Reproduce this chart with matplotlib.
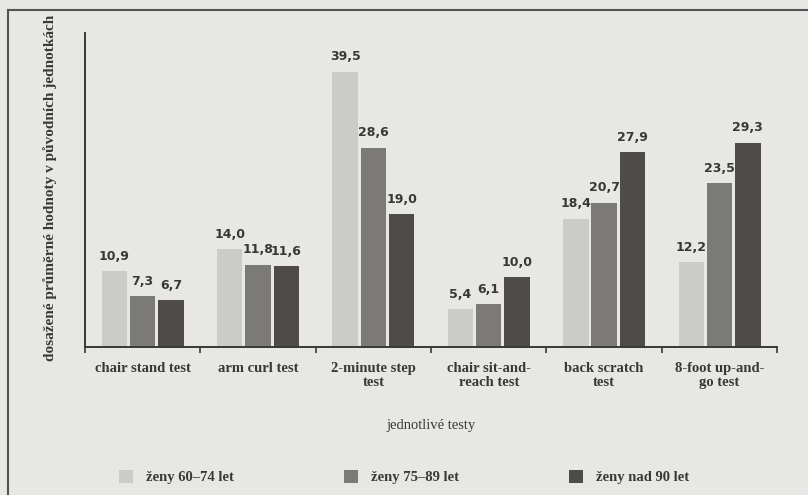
import matplotlib.pyplot as plt
import numpy as np
from matplotlib.lines import Line2D

# average results per test and age group
tests = ["chair stand test", "arm curl test", "2-minute step\ntest",
         "chair sit-and-\nreach test", "back scratch\ntest", "8-foot up-and-\ngo test"]
groups = ["ženy 60–74 let", "ženy 75–89 let", "ženy nad 90 let"]
zeny_60_74 = [10.9, 14.0, 39.5, 5.4, 18.4, 12.2]
zeny_75_89 = [7.3, 11.8, 28.6, 6.1, 20.7, 23.5]
zeny_nad_90 = [6.7, 11.6, 19.0, 10.0, 27.9, 29.3]

colors = ["#cbcbc9", "#7b7a78", "#4e4b49"]
paper = "#e7e7e4"
ink = "#3a3836"

plt.rcParams['font.family'] = ['Liberation Serif', 'DejaVu Serif']

fig = plt.figure(figsize=(8.08, 4.95), dpi=100, facecolor=paper)
ax = fig.add_axes([0.105, 0.299, 0.857, 0.634])
ax.set_facecolor(paper)

x = np.arange(len(tests))
w = 0.22
step = 0.245
for i, (vals, col, name) in enumerate(zip([zeny_60_74, zeny_75_89, zeny_nad_90], colors, groups)):
    pos = x + (i - 1) * step
    bars = ax.bar(pos, vals, width=w, color=col, label=name, zorder=2)
    for b, v in zip(bars, vals):
        ax.text(b.get_x() + b.get_width() / 2, v + 1.2, f"{v:.1f}".replace(".", ","),
                ha="center", va="bottom", fontsize=9, color=ink,
                family=["DejaVu Sans"], fontweight="bold")

ax.set_xlim(-0.5, len(tests) - 0.5)
ax.set_ylim(0, 45)
ax.set_xticks(x)
ax.set_xticklabels(tests, fontsize=10.5, color=ink, fontweight="bold", linespacing=1.05)
ax.set_xticks(np.arange(len(tests) + 1) - 0.5, minor=True)
ax.tick_params(axis="x", which="major", length=0, pad=11)
ax.tick_params(axis="x", which="minor", length=4, width=1.2, color=ink, direction="out")
ax.set_yticks([])

for s in ["top", "right"]:
    ax.spines[s].set_visible(False)
ax.spines["left"].set_color(ink)
ax.spines["bottom"].set_color(ink)
ax.spines["left"].set_linewidth(1.4)
ax.spines["bottom"].set_linewidth(1.4)

ax.set_xlabel("jednotlivé testy", fontsize=10.5, color=ink, labelpad=22)
fig.text(0.062, 0.62, "dosažené průměrné hodnoty v původních jednotkách",
         rotation=90, ha="center", va="center", fontsize=11, color=ink, fontweight="bold")

fig.legend(loc="lower center", bbox_to_anchor=(0.5, -0.005), ncol=3, frameon=False,
           fontsize=10.5, handlelength=1.0, handleheight=1.0, columnspacing=7.5,
           handletextpad=0.9, labelcolor=ink, prop={"weight": "bold", "size": 10.5})

# frame around the figure
fig.add_artist(Line2D([0.01, 1.0], [0.98, 0.98], color="#555452", lw=1.5))
fig.add_artist(Line2D([0.01, 0.01], [0.0, 0.98], color="#555452", lw=1.5))

fig.savefig("out.png", dpi=100, facecolor=paper)
